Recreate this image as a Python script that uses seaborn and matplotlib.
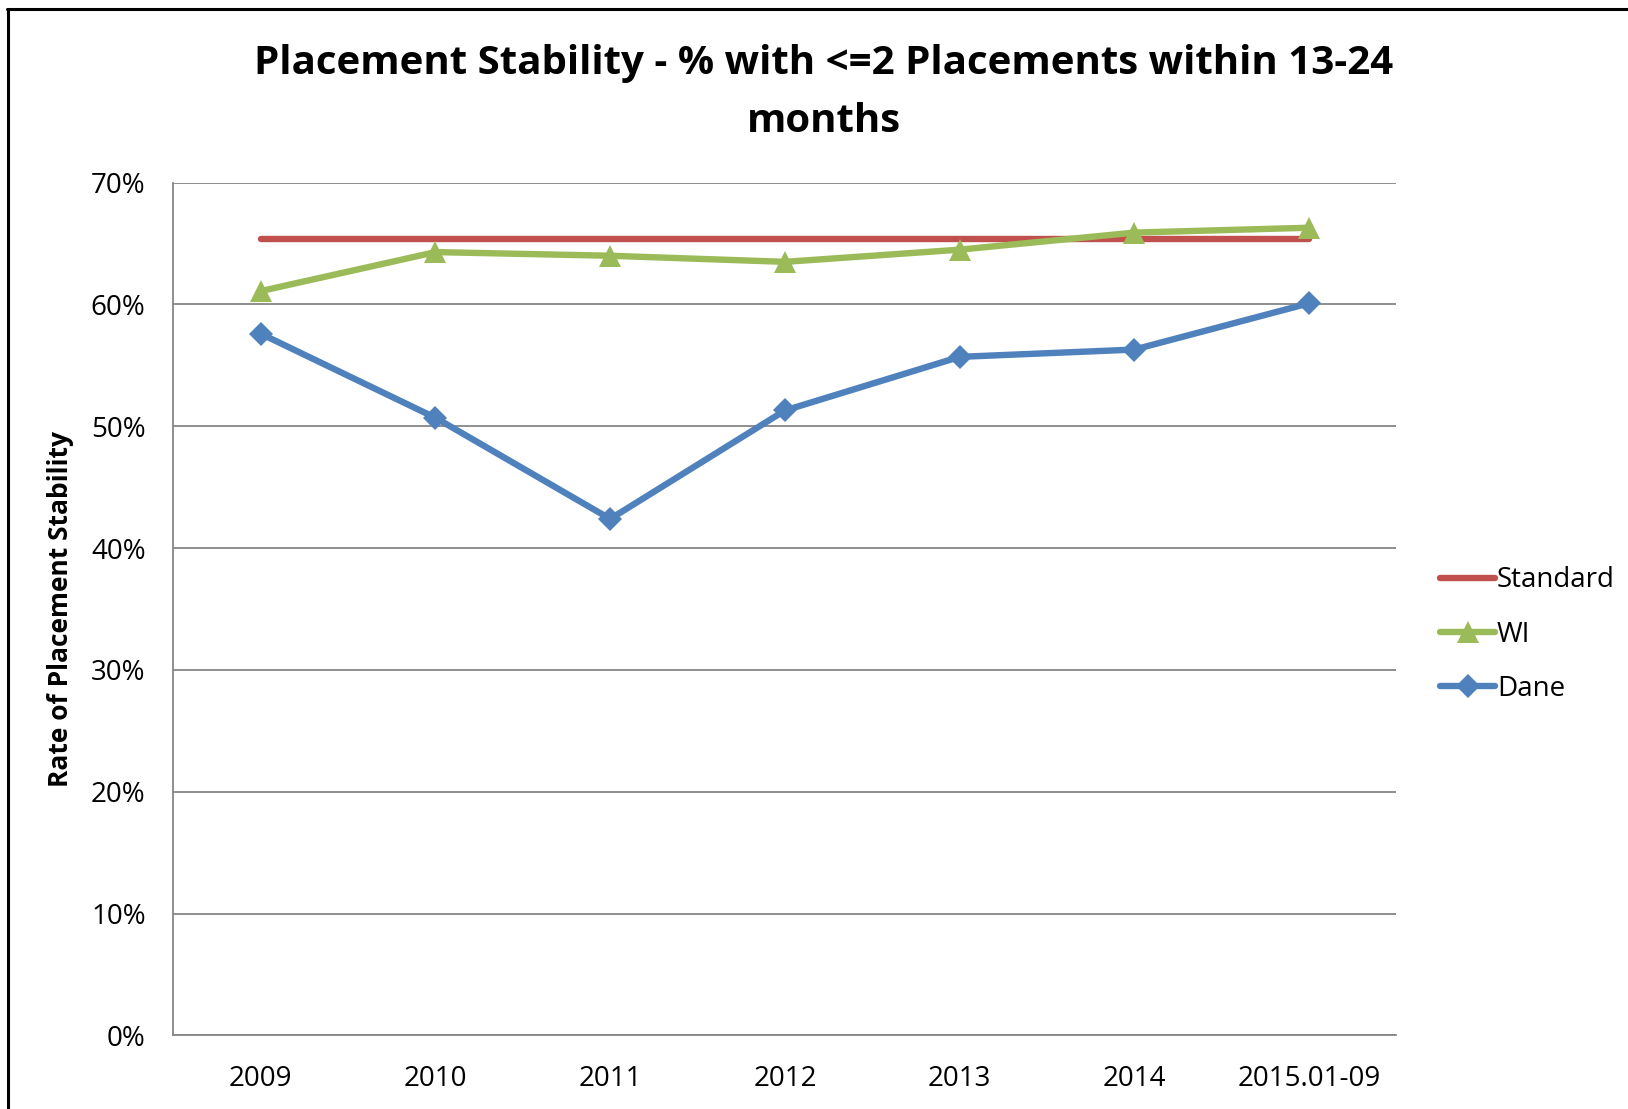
import matplotlib
matplotlib.use("Agg")
import matplotlib.pyplot as plt
import seaborn as sns
import pandas as pd
from matplotlib.lines import Line2D
from matplotlib.ticker import FuncFormatter

categories = ["2009", "2010", "2011", "2012", "2013", "2014", "2015.01-09"]
standard = [65.4, 65.4, 65.4, 65.4, 65.4, 65.4, 65.4]
wi = [61.1, 64.3, 64.0, 63.5, 64.5, 65.9, 66.3]
dane = [57.6, 50.7, 42.4, 51.3, 55.7, 56.3, 60.1]
yticks = [0, 10, 20, 30, 40, 50, 60, 70]

sns.set_theme(style="white")
plt.rcParams['font.family'] = ['Open Sans', 'DejaVu Sans']
plt.rcParams['text.color'] = 'black'

df = pd.DataFrame({
    "cat": categories * 3,
    "x": list(range(len(categories))) * 3,
    "val": standard + wi + dane,
    "series": ["Standard"] * 7 + ["WI"] * 7 + ["Dane"] * 7,
})

fig = plt.figure(figsize=(16.28, 11.09), dpi=100)
ax = fig.add_axes([0.1065, 0.0663, 0.7513, 0.769])

palette = {"Standard": "#C0504D", "WI": "#9BBB59", "Dane": "#4F81BD"}
markers = {"Standard": "", "WI": "^", "Dane": "D"}
msizes = {"Standard": 0, "WI": 16, "Dane": 12}

for s in ["Standard", "WI", "Dane"]:
    sub = df[df.series == s]
    sns.lineplot(data=sub, x="x", y="val", ax=ax, color=palette[s],
                 linewidth=4.6, marker=markers[s] if markers[s] else None,
                 markersize=msizes[s], markeredgewidth=0, label=s,
                 solid_capstyle="round")

ax.set_xlim(-0.5, 6.5)
ax.set_ylim(0, 70)
ax.set_yticks(yticks)
ax.yaxis.set_major_formatter(FuncFormatter(lambda v, p: f"{int(v)}%"))
ax.set_xticks(range(len(categories)))
ax.set_xticklabels(categories)
ax.tick_params(axis="both", labelsize=20, length=0, colors="black")
ax.tick_params(axis="y", pad=20)
ax.tick_params(axis="x", pad=21)
ax.grid(axis="y", color="#868686", linewidth=1.3)
ax.set_axisbelow(True)
for side in ["top", "right"]:
    ax.spines[side].set_visible(False)
for side in ["left", "bottom"]:
    ax.spines[side].set_color("#868686")
    ax.spines[side].set_linewidth(1.3)
ax.set_xlabel("")
ax.set_ylabel("Rate of Placement Stability", fontsize=19, fontweight="bold",
              labelpad=12, color="black")

fig.suptitle("Placement Stability - % with <=2 Placements within 13-24\nmonths",
             x=0.506, y=0.960, fontsize=29, fontweight="bold", linespacing=1.63,
             color="black")

handles, labels = ax.get_legend_handles_labels()
leg = ax.legend(handles, labels, loc="center left", bbox_to_anchor=(1.015, 0.47),
                frameon=False, fontsize=20, handlelength=2.0, handletextpad=0.05,
                labelspacing=0.95)
for t in leg.get_texts():
    t.set_color("black")

fig.add_artist(Line2D([0.0045, 1.0], [1 - 9 / 1109, 1 - 9 / 1109], color="black", linewidth=2.2))
fig.add_artist(Line2D([8 / 1628, 8 / 1628], [0, 1 - 9 / 1109], color="black", linewidth=2.2))

fig.savefig("out.png", dpi=100)
